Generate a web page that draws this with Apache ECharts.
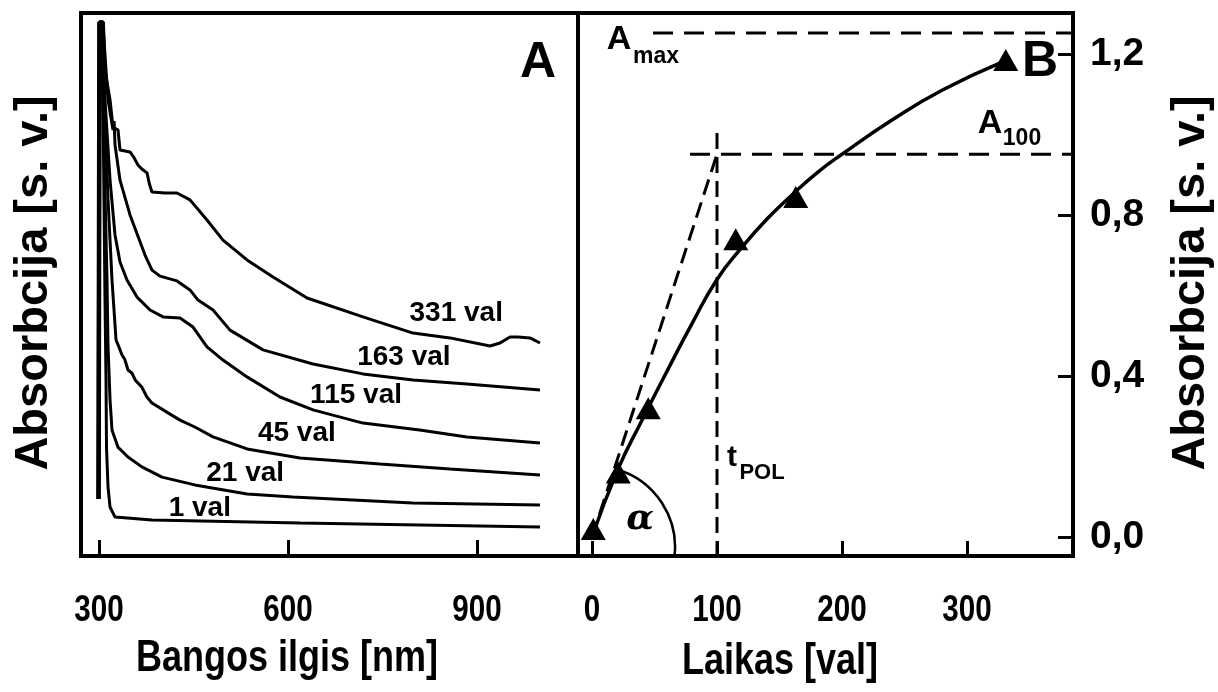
<!DOCTYPE html>
<html>
<head>
<meta charset="utf-8">
<script src="https://cdn.jsdelivr.net/npm/echarts@6/dist/echarts.min.js"></script>
<style>
  html, body { margin: 0; padding: 0; background: #fff; }
  #chart { width: 1218px; height: 692px; }
</style>
</head>
<body>
<div id="chart"></div>
<script>
// ---- Panel A: absorption spectra, [wavelength nm, absorbance a.u.] ----
const spec1 = [[298,0.19],[299.5,1.78],[302.5,1.78],[306.3,1.52],[307.9,1.19],[309.5,0.85],[311.1,0.59],[311.9,0.36],[314.3,0.23],[317.5,0.163],[325.4,0.13],[384,0.12],[619,0.11],[1000,0.097]];
const spec21 = [[298.5,0.19],[300,1.78],[303.5,1.78],[308,1.35],[312.7,0.92],[314.3,0.697],[317.5,0.52],[320.6,0.42],[330,0.363],[346,0.33],[368,0.297],[400,0.263],[452,0.237],[535,0.207],[608,0.197],[798,0.177],[1000,0.17]];
const spec45 = [[299,0.19],[300.5,1.78],[304,1.78],[308,1.52],[314.3,1.187],[320.6,0.92],[327,0.72],[331,0.70],[336.5,0.67],[341,0.655],[346,0.62],[352,0.61],[358,0.585],[368,0.563],[376,0.53],[384,0.51],[409.5,0.477],[428.6,0.453],[452,0.43],[481,0.397],[535,0.357],[619,0.327],[746,0.307],[857,0.29],[1000,0.27]];
const spec115 = [[299.5,0.19],[301,1.78],[305,1.78],[309.5,1.52],[317.5,1.253],[325.4,1.07],[333.3,0.98],[344.4,0.92],[360.3,0.863],[381,0.82],[401.6,0.797],[428.6,0.793],[449.2,0.763],[471.4,0.697],[496.8,0.653],[534.9,0.597],[587.3,0.53],[639.7,0.487],[719,0.443],[809,0.42],[884,0.397],[1000,0.377]];
const spec163 = [[300,0.19],[301.5,1.78],[306,1.78],[314.3,1.52],[322.2,1.42],[324,1.45],[325.4,1.37],[333.3,1.253],[349.2,1.137],[373,1.003],[384.1,0.953],[396.8,0.933],[423.8,0.917],[444.4,0.887],[457.1,0.853],[481,0.82],[507.9,0.753],[560.3,0.687],[639.7,0.64],[719,0.607],[798.4,0.587],[884.1,0.573],[1000,0.553]];
const spec331 = [[300.5,0.19],[302,1.78],[307,1.78],[309.5,1.62],[317.5,1.52],[322.2,1.43],[330.2,1.42],[333.3,1.353],[349.2,1.347],[355,1.33],[361.9,1.303],[368,1.29],[376.2,1.277],[380,1.24],[384.1,1.213],[404.8,1.21],[423.8,1.21],[444.4,1.187],[471.4,1.12],[496.8,1.053],[534.9,0.987],[576.2,0.93],[630.2,0.86],[719,0.797],[798.4,0.743],[857.1,0.727],[920.6,0.70],[936.5,0.71],[952.4,0.73],[965.1,0.73],[984.1,0.727],[1000,0.71]];
const spectra = [spec1, spec21, spec45, spec115, spec163, spec331];
const spectrumNames = ['1 val', '21 val', '45 val', '115 val', '163 val', '331 val'];
const wavelengthTicks = [300, 600, 900];

// ---- Panel B: absorbance vs. time ----
const times = [1, 21, 45, 115, 163, 331];
const absorbance = [0.02, 0.16, 0.32, 0.74, 0.845, 1.185];
const fitCurve = [[0,0.0],[21,0.17],[40,0.29],[58,0.40],[80,0.53],[100,0.64],[120,0.72],[140,0.79],[160,0.85],[180,0.905],[200,0.951],[240,1.036],[280,1.11],[328,1.18]];
const aMax = 1.252;
const a100 = 0.951;
const tPol = 100;
const timeTicks = [0, 100, 200, 300];
const absTicks = [0, 0.4, 0.8, 1.2];

const FONT = "'Liberation Sans', Arial, sans-serif";
const black = '#000';
const CONDENSE = 0.8;   // bottom texts are set in a condensed bold face

const chart = echarts.init(document.getElementById('chart'), null, { renderer: 'canvas' });

function lineSeries(data, xi, extra) {
  return Object.assign({
    type: 'line', xAxisIndex: xi, yAxisIndex: xi, data: data,
    showSymbol: false, symbol: 'none', silent: true, animation: false,
    lineStyle: { color: black, width: 3 }
  }, extra || {});
}

function note(x, y, text, size, extra) {
  return {
    value: [x, y],
    label: Object.assign({
      show: true, formatter: text, position: [0, 0], align: 'center', verticalAlign: 'middle',
      fontFamily: FONT, fontWeight: 'bold', fontSize: size, color: black, opacity: 1
    }, extra || {})
  };
}

function noteSeries(xi, data) {
  return {
    type: 'scatter', xAxisIndex: xi, yAxisIndex: xi, symbolSize: 0, silent: true, animation: false,
    itemStyle: { opacity: 1 }, data: data
  };
}

function condensedText(x, y, text, size) {
  return {
    type: 'text', x: x, y: y, scaleX: CONDENSE, silent: true,
    style: { text: text, font: 'bold ' + size + 'px ' + FONT, fill: black, align: 'center', verticalAlign: 'middle' }
  };
}

const xB = { min: -11.2, max: 384.8 };
const yB = { min: -0.0472, max: 1.302 };

const series = [];
spectra.forEach((s, i) => series.push(lineSeries(s, 0, { name: spectrumNames[i] })));

// curve labels for the spectra
series.push(noteSeries(0, [
  note(460, 0.160, spectrumNames[0], 28),
  note(532, 0.277, spectrumNames[1], 28),
  note(614, 0.410, spectrumNames[2], 28),
  note(708, 0.537, spectrumNames[3], 28),
  note(784, 0.663, spectrumNames[4], 28),
  note(867, 0.810, spectrumNames[5], 28),
  note(997, 1.643, 'A', 50)
]));

// panel B: guide lines
series.push(lineSeries([[48.8, aMax], [xB.max, aMax]], 1, { lineStyle: { color: black, width: 3, type: [20, 11] } }));
series.push(lineSeries([[78.4, a100], [xB.max, a100]], 1, { lineStyle: { color: black, width: 3, type: [20, 11] } }));
series.push(lineSeries([[tPol, 1.004], [tPol, yB.min]], 1, { lineStyle: { color: black, width: 3, type: [16, 8] } }));
series.push(lineSeries([[0, 0], [tPol, a100]], 1, { lineStyle: { color: black, width: 3, type: [16, 8] } }));
// fitted growth curve
series.push(lineSeries(fitCurve, 1, { smooth: 0.5, lineStyle: { color: black, width: 3.5 } }));
// measured points
series.push({
  type: 'scatter', xAxisIndex: 1, yAxisIndex: 1, symbol: 'triangle', symbolSize: [25, 22],
  itemStyle: { color: black, opacity: 1 }, silent: true, animation: false,
  data: times.map((t, i) => [t, absorbance[i]])
});
// angle arc of the initial slope
series.push({
  type: 'custom', xAxisIndex: 1, yAxisIndex: 1, silent: true, animation: false, clip: true,
  data: [[1.6, -0.025]],
  renderItem: function (params, api) {
    const c = api.coord([api.value(0), api.value(1)]);
    return {
      type: 'arc',
      shape: { cx: c[0], cy: c[1], r: 81, startAngle: -1.29, endAngle: 0.14, clockwise: true },
      style: { stroke: black, lineWidth: 2.5, fill: null }
    };
  }
});
// panel B annotations
series.push(noteSeries(1, [
  note(21.6, 1.235, 'A', 34),
  note(51.2, 1.193, 'max', 23),
  note(318.4, 1.026, 'A', 34),
  note(344, 0.991, '100', 23),
  note(112, 0.196, 't', 30),
  note(136, 0.159, 'POL', 22),
  note(38.4, 0.042, 'α', 36, { fontFamily: "'DejaVu Serif', 'Liberation Serif', serif", fontStyle: 'italic', fontWeight: 'bold' }),
  note(358.4, 1.18, 'B', 50)
]));

const rightFont = { fontFamily: FONT, fontWeight: 'bold', fontSize: 39, color: black };

chart.setOption({
  animation: false,
  backgroundColor: '#fff',
  grid: [
    { left: 81, top: 13, width: 497, height: 543, show: true, borderWidth: 4, borderColor: black, backgroundColor: 'transparent' },
    { left: 578, top: 13, width: 495, height: 543, show: true, borderWidth: 4, borderColor: black, backgroundColor: 'transparent' }
  ],
  xAxis: [
    {
      type: 'value', gridIndex: 0, min: 271.4, max: 1060.3,
      axisLine: { show: false, onZero: false }, splitLine: { show: false },
      axisTick: { show: true, inside: true, length: 16, customValues: wavelengthTicks, lineStyle: { color: black, width: 3 } },
      axisLabel: { show: false }
    },
    {
      type: 'value', gridIndex: 1, min: xB.min, max: xB.max,
      axisLine: { show: false, onZero: false }, splitLine: { show: false },
      axisTick: { show: true, inside: true, length: 15, customValues: timeTicks, lineStyle: { color: black, width: 3 } },
      axisLabel: { show: false }
    }
  ],
  yAxis: [
    {
      type: 'value', gridIndex: 0, min: 0, max: 1.81,
      axisLine: { show: false, onZero: false }, splitLine: { show: false }, axisTick: { show: false }, axisLabel: { show: false }
    },
    {
      type: 'value', gridIndex: 1, position: 'right', min: yB.min, max: yB.max,
      axisLine: { show: false, onZero: false }, splitLine: { show: false },
      axisTick: { show: true, inside: true, length: 15, customValues: absTicks, lineStyle: { color: black, width: 3 } },
      axisLabel: Object.assign({
        show: true, margin: 17, customValues: absTicks,
        formatter: v => v.toFixed(1).replace('.', ',')
      }, rightFont)
    }
  ],
  series: series
});

// Condensed bottom tick labels, placed at the axis positions of their tick values,
// plus the axis titles.
const labelY = 611;
const graphics = [];
wavelengthTicks.forEach(v => {
  graphics.push(condensedText(chart.convertToPixel({ xAxisIndex: 0 }, v), labelY, String(v), 37));
});
timeTicks.forEach(v => {
  graphics.push(condensedText(chart.convertToPixel({ xAxisIndex: 1 }, v), labelY, String(v), 37));
});
graphics.push(condensedText(287, 659, 'Bangos ilgis [nm]', 45));
graphics.push(condensedText(780, 662, 'Laikas [val]', 45));
graphics.push({ type: 'text', x: 34, y: 283, rotation: Math.PI / 2, silent: true,
  style: { text: 'Absorbcija [s. v.]', font: 'bold 47px ' + FONT, fill: black, align: 'center', verticalAlign: 'middle' } });
graphics.push({ type: 'text', x: 1191, y: 283, rotation: Math.PI / 2, silent: true,
  style: { text: 'Absorbcija [s. v.]', font: 'bold 47px ' + FONT, fill: black, align: 'center', verticalAlign: 'middle' } });

chart.setOption({ graphic: graphics });
</script>
</body>
</html>
